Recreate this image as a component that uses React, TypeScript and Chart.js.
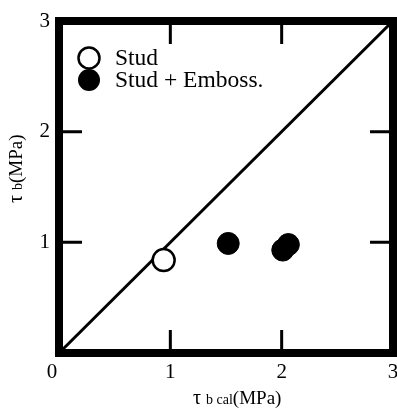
import { useEffect, useRef } from "react";
import { Chart, registerables } from "chart.js";

Chart.register(...registerables);

// Axis range and tick positions (both axes share 0–3 MPa)
const axisMin = 0;
const axisMax = 3;
const innerTicks = [1, 2];
const xTickLabels = ["1", "2", "3"];
const xTickValues = [1, 2, 3];
const yTickLabels = ["1", "2", "3"];
const yTickValues = [1, 2, 3];

// Measured bond strength vs. calculated bond strength
const studX = [0.94];
const studY = [0.84];
const embossX = [1.52, 2.01, 2.06];
const embossY = [0.99, 0.93, 0.98];

// 1:1 reference line
const refX = [0, 3];
const refY = [0, 3];

const legendLabels = ["Stud", "Stud + Emboss."];

const SERIF = "'Liberation Serif', 'Times New Roman', serif";

const framePlugin = {
  id: "frame",
  afterDatasetsDraw(chart: any) {
    const { ctx, chartArea, scales } = chart;
    const { left, right, top, bottom } = chartArea;
    const xs = scales.x;
    const ys = scales.y;
    ctx.save();

    // thick frame
    ctx.strokeStyle = "#000";
    ctx.lineWidth = 8;
    ctx.lineJoin = "miter";
    ctx.strokeRect(left, top, right - left, bottom - top);

    // inward tick marks on all four sides
    ctx.lineWidth = 3;
    const tl = 23;
    ctx.beginPath();
    innerTicks.forEach((v) => {
      const px = xs.getPixelForValue(v);
      ctx.moveTo(px, bottom);
      ctx.lineTo(px, bottom - tl);
      ctx.moveTo(px, top);
      ctx.lineTo(px, top + tl);
      const py = ys.getPixelForValue(v);
      ctx.moveTo(left, py);
      ctx.lineTo(left + tl, py);
      ctx.moveTo(right, py);
      ctx.lineTo(right - tl, py);
    });
    ctx.stroke();

    // tick labels
    ctx.fillStyle = "#000";
    ctx.font = `21px ${SERIF}`;
    ctx.textAlign = "center";
    ctx.textBaseline = "middle";
    xTickValues.forEach((v, i) => {
      ctx.fillText(xTickLabels[i], xs.getPixelForValue(v), bottom + 19);
    });
    ctx.fillText("0", left - 7, bottom + 19);
    ctx.textAlign = "right";
    yTickValues.forEach((v, i) => {
      ctx.fillText(yTickLabels[i], left - 9, ys.getPixelForValue(v));
    });

    // x axis title: τ b cal(MPa)
    ctx.textAlign = "left";
    ctx.textBaseline = "alphabetic";
    let x = 193;
    const by = 404;
    ctx.font = `20px ${SERIF}`;
    ctx.fillText("τ", x, by);
    x += ctx.measureText("τ ").width;
    ctx.font = `14px ${SERIF}`;
    ctx.fillText("b cal", x, by);
    x += ctx.measureText("b cal").width;
    ctx.font = `19px ${SERIF}`;
    ctx.fillText("(MPa)", x, by);

    // y axis title: τ b(MPa), rotated
    ctx.save();
    ctx.translate(22, 203);
    ctx.rotate(-Math.PI / 2);
    let yx = 0;
    ctx.font = `20px ${SERIF}`;
    ctx.fillText("τ", yx, 0);
    yx += ctx.measureText("τ ").width;
    ctx.font = `14px ${SERIF}`;
    ctx.fillText("b", yx, 0);
    yx += ctx.measureText("b").width;
    ctx.font = `19px ${SERIF}`;
    ctx.fillText("(MPa)", yx, 0);
    ctx.restore();

    // legend
    const lx = 89;
    const ly = [58, 80];
    ctx.lineWidth = 2.5;
    ctx.beginPath();
    ctx.arc(lx, ly[1], 11, 0, Math.PI * 2);
    ctx.fillStyle = "#000";
    ctx.fill();
    ctx.beginPath();
    ctx.arc(lx, ly[0], 10.5, 0, Math.PI * 2);
    ctx.fillStyle = "#fff";
    ctx.fill();
    ctx.stroke();
    ctx.fillStyle = "#000";
    ctx.font = `23.5px ${SERIF}`;
    ctx.textBaseline = "middle";
    ctx.fillText(legendLabels[0], 115, ly[0] + 1);
    ctx.fillText(legendLabels[1], 115, ly[1] + 1);

    ctx.restore();
  },
};

export default function App() {
  const canvasRef = useRef<HTMLCanvasElement | null>(null);

  useEffect(() => {
    const canvas = canvasRef.current;
    if (!canvas) return;
    const chart = new Chart(canvas, {
      type: "scatter",
      data: {
        datasets: [
          {
            label: legendLabels[0],
            data: studX.map((v, i) => ({ x: v, y: studY[i] })),
            pointRadius: 11,
            pointBorderWidth: 2.5,
            pointBackgroundColor: "#fff",
            pointBorderColor: "#000",
          },
          {
            label: legendLabels[1],
            data: embossX.map((v, i) => ({ x: v, y: embossY[i] })),
            pointRadius: 11,
            pointBorderWidth: 1,
            pointBackgroundColor: "#000",
            pointBorderColor: "#000",
          },
          {
            label: "1:1",
            type: "line",
            data: refX.map((v, i) => ({ x: v, y: refY[i] })),
            borderColor: "#000",
            borderWidth: 3,
            pointRadius: 0,
            showLine: true,
            fill: false,
          },
        ],
      } as any,
      options: {
        responsive: false,
        animation: false,
        devicePixelRatio: 1,
        layout: { autoPadding: false, padding: { left: 59, right: 4, top: 21, bottom: 60 } },
        plugins: { legend: { display: false }, tooltip: { enabled: false } },
        scales: {
          x: { type: "linear", min: axisMin, max: axisMax, display: false },
          y: { type: "linear", min: axisMin, max: axisMax, display: false },
        },
      },
      plugins: [framePlugin],
    });
    return () => chart.destroy();
  }, []);

  return (
    <div style={{ position: "fixed", left: 0, top: 0, width: 397, height: 413, background: "#fff" }}>
      <canvas ref={canvasRef} width={397} height={413} style={{ width: 397, height: 413, display: "block" }} />
    </div>
  );
}
